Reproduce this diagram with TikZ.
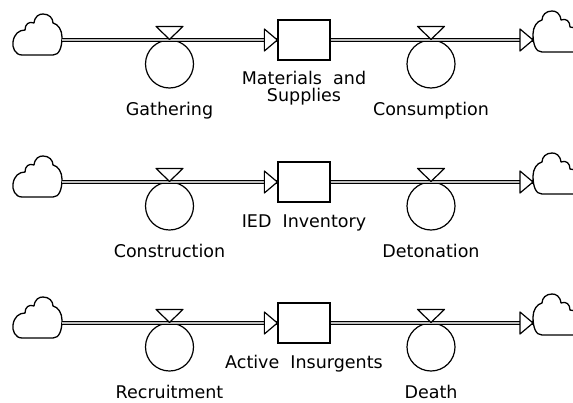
\documentclass[tikz,border=0pt]{standalone}
\usepackage{fontspec}
\setmainfont{DejaVu Sans}
\usetikzlibrary{graphs}
\tikzset{
    pipe/.style={double=black!25, double distance=2.2pt, line width=1.1pt},
    stock/.style={draw, line width=1.3pt, minimum width=52pt, minimum height=40pt, inner sep=0pt},
    flow/.style={circle, draw, line width=1.2pt, minimum size=48pt, inner sep=0pt},
    valve/.style={draw, fill=white, line width=1.2pt, line join=round},
    lbl/.style={anchor=base, align=center, inner sep=0pt, font=\fontsize{17.5}{17}\selectfont},
    cloudpic/.pic={
        \draw[line width=1.3pt, line join=round, fill=white]
            (-9,-15) -- (-40,-15)
            .. controls (-47,-15) and (-50,-7) .. (-49,-2)
            .. controls (-48,6) and (-43,10) .. (-37,10)
            .. controls (-37,16) and (-33,19) .. (-28,17)
            .. controls (-27,24) and (-23,26) .. (-19,26)
            .. controls (-13,26) and (-9,22) .. (-9,17)
            .. controls (-4,16) and (0,10) .. (0,3)
            .. controls (0,-8) and (-3,-15) .. (-9,-15) -- cycle;
    },
}

\begin{document}
\begin{tikzpicture}[x=1pt, y=1pt]
    \clip (0,0) rectangle (573,-402);
    \foreach \r/\y/\sy/\stk/\inf/\outf in {1/-40/-61/{Materials~~and\\Supplies}/Gathering/Consumption,
                                          2/-182/-45/{IED~~Inventory}/Construction/Detonation,
                                          3/-323/-45/{Active~~Insurgents}/Recruitment/Death}{
        \coordinate (src\r) at (62,\y);
        \coordinate (snk\r) at (533,\y);
        \node[stock] (stk\r) at (304,\y) {};
        \node[flow] (in\r) at (169.5,\y-24) {};
        \node[flow] (out\r) at (431,\y-24) {};
        \pic at (src\r) {cloudpic};
        \pic[xscale=-1, yshift=3pt] at (snk\r) {cloudpic};
        \graph[use existing nodes]{
            src\r --[pipe] stk\r --[pipe] snk\r ;
        } ;
        \draw[valve] (stk\r.west) -- ++(-13,11) -- ++(0,-22) -- cycle;
        \draw[valve] (snk\r) -- ++(-13,11) -- ++(0,-22) -- cycle;
        \draw[valve] (in\r.north) -- ++(-13.5,13) -- ++(27,0) -- cycle;
        \draw[valve] (out\r.north) -- ++(-13.5,13) -- ++(27,0) -- cycle;
        \node[lbl] (inl\r) at (169.5,\y-75) {\inf};
        \node[lbl] (stl\r) at (304,\y+\sy) {\stk};
        \node[lbl] (outl\r) at (431,\y-75) {\outf};
    }
\end{tikzpicture}
\end{document}
